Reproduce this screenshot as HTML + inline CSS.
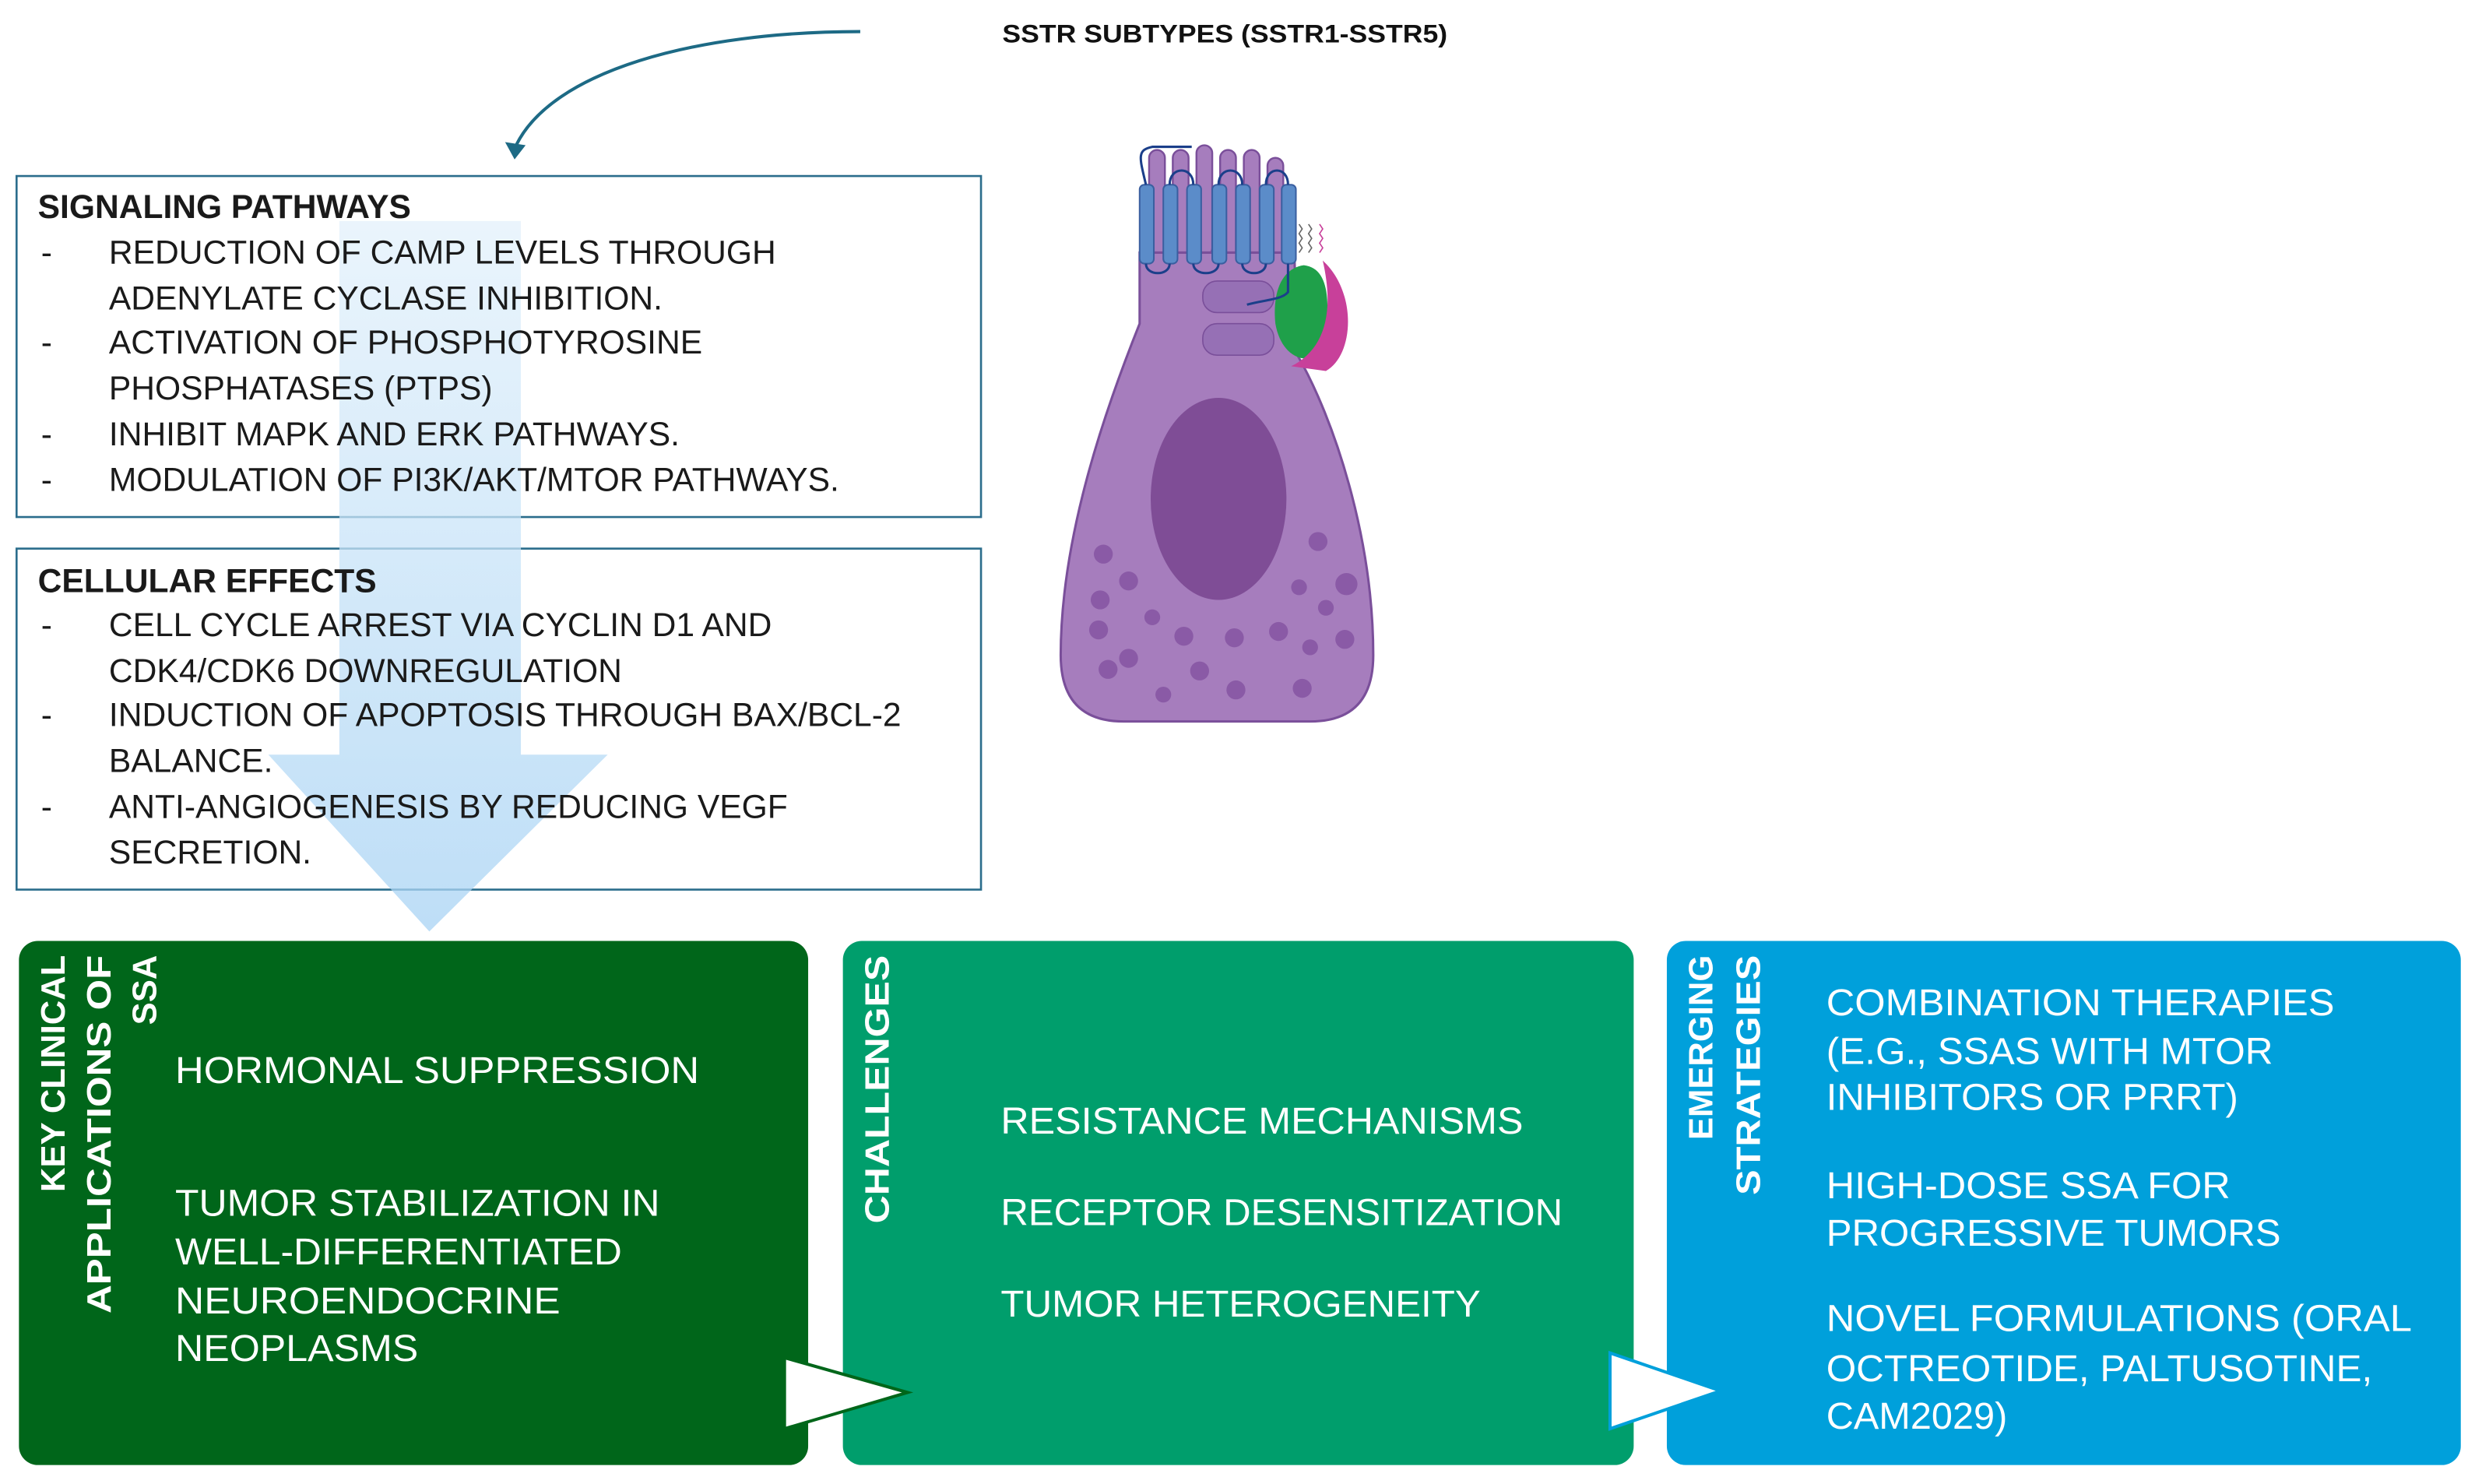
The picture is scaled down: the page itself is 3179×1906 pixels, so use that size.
<!DOCTYPE html>
<html><head><meta charset="utf-8"><style>
html,body{margin:0;padding:0;background:#fff;}
svg{display:block;}
text{font-family:"Liberation Sans",sans-serif;}
</style></head><body>
<svg width="3179" height="1906" viewBox="0 0 1568 940" preserveAspectRatio="none" xmlns="http://www.w3.org/2000/svg">
<defs>
<linearGradient id="ag" x1="0" y1="0" x2="0" y2="1">
<stop offset="0" stop-color="#e3f1fb"/><stop offset="1" stop-color="#a8d3f4"/>
</linearGradient>
</defs>
<rect width="1568" height="940" fill="#fff"/>

<path d="M545,20 C440,20 350,45 327,92" fill="none" stroke="#1d6a85" stroke-width="2"/>
<path d="M320,90 L326,101 L333,92 Z" fill="#1d6a85"/>
<text x="635" y="27" font-size="16" font-weight="bold" fill="#111" textLength="282" lengthAdjust="spacingAndGlyphs">SSTR SUBTYPES (SSTR1-SSTR5)</text>

<rect x="10.5" y="111.5" width="611" height="216" fill="#fff" stroke="#2b6d8c" stroke-width="1.3"/>
<rect x="10.5" y="347.5" width="611" height="216" fill="#fff" stroke="#2b6d8c" stroke-width="1.3"/>
<polygon points="215,140 330,140 330,478 385,478 272,590 170,478 215,478" fill="url(#ag)" opacity="0.75"/>

<g font-size="21" fill="#1a1a1a">
<text x="24" y="138" font-weight="bold">SIGNALING PATHWAYS</text>
<text x="26" y="167">-</text><text x="69" y="167">REDUCTION OF CAMP LEVELS THROUGH</text>
<text x="69" y="196">ADENYLATE CYCLASE INHIBITION.</text>
<text x="26" y="224">-</text><text x="69" y="224">ACTIVATION OF PHOSPHOTYROSINE</text>
<text x="69" y="253">PHOSPHATASES (PTPS)</text>
<text x="26" y="282">-</text><text x="69" y="282">INHIBIT MAPK AND ERK PATHWAYS.</text>
<text x="26" y="311">-</text><text x="69" y="311">MODULATION OF PI3K/AKT/MTOR PATHWAYS.</text>

<text x="24" y="375" font-weight="bold">CELLULAR EFFECTS</text>
<text x="26" y="403">-</text><text x="69" y="403">CELL CYCLE ARREST VIA CYCLIN D1 AND</text>
<text x="69" y="432">CDK4/CDK6 DOWNREGULATION</text>
<text x="26" y="460">-</text><text x="69" y="460">INDUCTION OF APOPTOSIS THROUGH BAX/BCL-2</text>
<text x="69" y="489">BALANCE.</text>
<text x="26" y="518">-</text><text x="69" y="518">ANTI-ANGIOGENESIS BY REDUCING VEGF</text>
<text x="69" y="547">SECRETION.</text>
</g>

<g>
<g fill="#a67dbd" stroke="#7a4f9a" stroke-width="1.2">
<rect x="728" y="95" width="10" height="70" rx="5"/>
<rect x="743" y="95" width="10" height="70" rx="5"/>
<rect x="758" y="92" width="10" height="70" rx="5"/>
<rect x="773" y="95" width="10" height="70" rx="5"/>
<rect x="788" y="95" width="10" height="70" rx="5"/>
<rect x="803" y="100" width="10" height="70" rx="5"/>
</g>
<path d="M722,160 L820,160 L822,225 C845,265 870,340 870,415 Q870,457 830,457 L712,457 Q672,457 672,415 C672,340 700,260 722,205 Z" fill="#a67dbd" stroke="#7a4f9a" stroke-width="1.5"/>
<ellipse cx="772" cy="316" rx="43" ry="64" fill="#7f4d96"/>
<g fill="#8a5aa6">
<circle cx="699" cy="351" r="6"/><circle cx="715" cy="368" r="6"/><circle cx="697" cy="380" r="6"/>
<circle cx="730" cy="391" r="5"/><circle cx="696" cy="399" r="6"/><circle cx="750" cy="403" r="6"/>
<circle cx="715" cy="417" r="6"/><circle cx="760" cy="425" r="6"/><circle cx="737" cy="440" r="5"/>
<circle cx="783" cy="437" r="6"/><circle cx="702" cy="424" r="6"/><circle cx="810" cy="400" r="6"/>
<circle cx="830" cy="410" r="5"/><circle cx="825" cy="436" r="6"/><circle cx="852" cy="405" r="6"/>
<circle cx="840" cy="385" r="5"/><circle cx="853" cy="370" r="7"/><circle cx="823" cy="372" r="5"/>
<circle cx="835" cy="343" r="6"/><circle cx="782" cy="404" r="6"/>
</g>
<g fill="#9670b5" stroke="#7a4f9a" stroke-width="0.8">
<rect x="762" y="178" width="45" height="20" rx="9"/>
<rect x="762" y="205" width="45" height="20" rx="9"/>
</g>
<path d="M826,168 C845,170 842,200 838,222 C830,232 812,228 808,205 C806,185 812,170 826,168 Z" fill="#1fa04a"/>
<path d="M838,165 C860,185 858,225 840,235 L818,232 C838,222 846,200 838,165 Z" fill="#c8409a"/>
<g fill="#5b8cc9" stroke="#3a5fa0" stroke-width="1">
<rect x="722" y="117" width="9" height="50" rx="3"/>
<rect x="737" y="117" width="9" height="50" rx="3"/>
<rect x="752" y="117" width="9" height="50" rx="3"/>
<rect x="768" y="117" width="9" height="50" rx="3"/>
<rect x="783" y="117" width="9" height="50" rx="3"/>
<rect x="798" y="117" width="9" height="50" rx="3"/>
<rect x="812" y="117" width="9" height="50" rx="3"/>
</g>
<path d="M726,117 C722,100 720,95 730,93 L755,93 M741,117 C741,105 756,105 756,117 M772,117 C772,105 787,105 787,117 M802,117 C802,105 816,105 816,117 M726,167 C726,175 741,175 741,167 M756,167 C756,175 772,175 772,167 M787,167 C787,175 802,175 802,167 M816,167 L816,185 C812,190 800,190 790,193" fill="none" stroke="#1b3f8a" stroke-width="1.5"/>
<path d="M823,160 l2,-3 l-2,-3 l2,-3 l-2,-3 l2,-3 l-2,-3 M829,160 l2,-3 l-2,-3 l2,-3 l-2,-3 l2,-3 l-2,-3" fill="none" stroke="#666" stroke-width="0.8"/>
<path d="M836,160 l2,-3 l-2,-3 l2,-3 l-2,-3 l2,-3 l-2,-3" fill="none" stroke="#c8409a" stroke-width="0.8"/>
</g>

<rect x="12" y="596" width="500" height="332" rx="12" fill="#00661a"/>
<rect x="534" y="596" width="501" height="332" rx="12" fill="#009e6c"/>
<rect x="1056" y="596" width="503" height="332" rx="12" fill="#00a0db"/>

<polygon points="497,860 575,882 497,905" fill="#fff" stroke="#00661a" stroke-width="2"/>
<polygon points="1020,857 1090,881 1020,905" fill="#fff" stroke="#00a0db" stroke-width="2"/>

<g font-size="21.5" font-weight="bold" fill="#fff" text-anchor="end">
<text transform="rotate(-90)" x="-605" y="41">KEY CLINICAL</text>
<text transform="rotate(-90)" x="-605" y="70" textLength="227" lengthAdjust="spacingAndGlyphs">APPLICATIONS OF</text>
<text transform="rotate(-90)" x="-605" y="99">SSA</text>
<text transform="rotate(-90)" x="-605" y="563" textLength="170" lengthAdjust="spacingAndGlyphs">CHALLENGES</text>
<text transform="rotate(-90)" x="-605" y="1085">EMERGING</text>
<text transform="rotate(-90)" x="-605" y="1115" textLength="152" lengthAdjust="spacingAndGlyphs">STRATEGIES</text>
</g>

<g font-size="24" fill="#fff">
<text x="111" y="686" textLength="332" lengthAdjust="spacingAndGlyphs">HORMONAL SUPPRESSION</text>
<text x="111" y="770" textLength="307" lengthAdjust="spacingAndGlyphs">TUMOR STABILIZATION IN</text>
<text x="111" y="801" textLength="283" lengthAdjust="spacingAndGlyphs">WELL-DIFFERENTIATED</text>
<text x="111" y="832" textLength="244" lengthAdjust="spacingAndGlyphs">NEUROENDOCRINE</text>
<text x="111" y="862" textLength="154" lengthAdjust="spacingAndGlyphs">NEOPLASMS</text>

<text x="634" y="718" textLength="331" lengthAdjust="spacingAndGlyphs">RESISTANCE MECHANISMS</text>
<text x="634" y="776" textLength="356" lengthAdjust="spacingAndGlyphs">RECEPTOR DESENSITIZATION</text>
<text x="634" y="834" textLength="304" lengthAdjust="spacingAndGlyphs">TUMOR HETEROGENEITY</text>

<text x="1157" y="643" textLength="322" lengthAdjust="spacingAndGlyphs">COMBINATION THERAPIES</text>
<text x="1157" y="674" textLength="283" lengthAdjust="spacingAndGlyphs">(E.G., SSAS WITH MTOR</text>
<text x="1157" y="703" textLength="261" lengthAdjust="spacingAndGlyphs">INHIBITORS OR PRRT)</text>
<text x="1157" y="759" textLength="256" lengthAdjust="spacingAndGlyphs">HIGH-DOSE SSA FOR</text>
<text x="1157" y="789" textLength="288" lengthAdjust="spacingAndGlyphs">PROGRESSIVE TUMORS</text>
<text x="1157" y="843" textLength="371" lengthAdjust="spacingAndGlyphs">NOVEL FORMULATIONS (ORAL</text>
<text x="1157" y="875" textLength="346" lengthAdjust="spacingAndGlyphs">OCTREOTIDE, PALTUSOTINE,</text>
<text x="1157" y="905">CAM2029)</text>
</g>
</svg>
</body></html>
